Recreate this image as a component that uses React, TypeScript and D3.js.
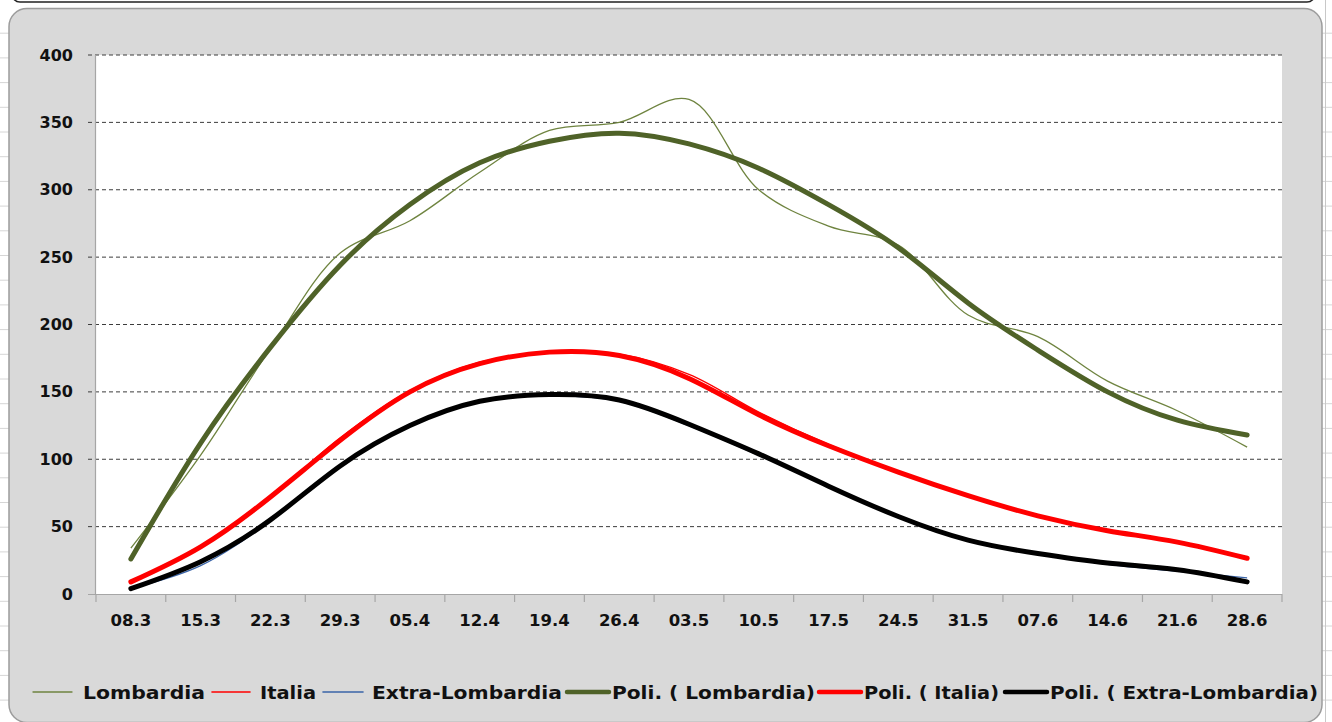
import React from "react";
import * as d3 from "d3";

const categories = ["08.3","15.3","22.3","29.3","05.4","12.4","19.4","26.4","03.5","10.5","17.5","24.5","31.5","07.6","14.6","21.6","28.6"];

const lombardia = [34, 103, 182, 253, 277, 313, 344, 350, 367, 300, 273, 259, 207, 191, 158, 136, 109];
const italia = [10, 35, 72, 116, 151, 172, 179, 178, 163, 135, 111, 91, 73, 58, 47, 38, 27];
const extraLombardia = [4, 21, 54, 95, 125, 143, 147, 143, 125, 103, 80, 58, 40, 30, 22, 17, 12];

const lombardiaTrend = [26, 112, 183, 244, 289, 320, 336, 342, 334, 316, 289, 257, 216, 181, 150, 129, 118];
const italiaTrend = [9, 35, 72, 114, 150, 171, 179.5, 177, 160, 133, 110, 90.5, 73, 58, 47, 38.5, 26.5];
const extraTrend = [4, 24, 55, 95, 125, 143, 148, 144, 126, 104, 80, 57.5, 40, 30, 23, 18, 9];

const yTicks = [0, 50, 100, 150, 200, 250, 300, 350, 400];

const legendLabels = ["Lombardia", "Italia", "Extra-Lombardia", "Poli. ( Lombardia)", "Poli. ( Italia)", "Poli. ( Extra-Lombardia)"];

const FONT = "'DejaVu Sans', Verdana, sans-serif";

export default function App() {
  const plot = { left: 96, right: 1282, top: 55, bottom: 594 };
  const x = d3.scaleBand<string>().domain(categories).range([plot.left, plot.right]);
  const y = d3.scaleLinear().domain([0, 400]).range([plot.bottom, plot.top]);
  const cx = (i: number) => (x(categories[i]) as number) + x.bandwidth() / 2;

  const smooth = d3.line<number>().x((_, i) => cx(i)).y((v) => y(v)).curve(d3.curveCatmullRom.alpha(0.5));
  const trend = d3.line<number>().x((_, i) => cx(i)).y((v) => y(v)).curve(d3.curveNatural);

  const dataSeries = [
    { values: lombardia, color: "#6f8440", width: 1.3 },
    { values: italia, color: "#ff0000", width: 1.3 },
    { values: extraLombardia, color: "#3a64a8", width: 1.3 },
  ];
  const trendSeries = [
    { values: lombardiaTrend, color: "#4f6228", width: 5 },
    { values: italiaTrend, color: "#ff0000", width: 5 },
    { values: extraTrend, color: "#000000", width: 5 },
  ];

  const legendStyle = [
    { color: "#6f8440", width: 1.3, x1: 33, x2: 72, tx: 83, tl: 122 },
    { color: "#ff0000", width: 1.6, x1: 212, x2: 250, tx: 260, tl: 56 },
    { color: "#3a64a8", width: 1.6, x1: 323, x2: 363, tx: 372, tl: 190 },
    { color: "#4f6228", width: 4.5, x1: 567, x2: 609, tx: 612, tl: 203 },
    { color: "#ff0000", width: 4.5, x1: 819, x2: 861, tx: 864, tl: 135 },
    { color: "#000000", width: 4.5, x1: 1005, x2: 1047, tx: 1050, tl: 268 },
  ];

  const rowLines = d3.range(1, 30).map((k) => 8.5 + 24.7 * k);

  return (
    <svg width={1332} height={722} style={{ position: "absolute", left: 0, top: 0, background: "#fff" }}>
      {rowLines.map((ry, i) => (
        <g key={i}>
          <line x1={0} x2={10} y1={ry} y2={ry} stroke="#d6d6d6" strokeWidth={1} />
          <line x1={1322} x2={1332} y1={ry} y2={ry} stroke="#d6d6d6" strokeWidth={1} />
        </g>
      ))}
      <line x1={1325.5} x2={1325.5} y1={0} y2={722} stroke="#c8c8c8" strokeWidth={1} />
      <rect x={12} y={-30} width={1303} height={32} rx={8} fill="#fff" stroke="#222" strokeWidth={1.5} />
      <rect x={9} y={8.5} width={1313} height={714} rx={18} fill="#d9d9d9" stroke="#9c9c9c" strokeWidth={1.5} />
      <rect x={plot.left} y={plot.top} width={plot.right - plot.left} height={plot.bottom - plot.top} fill="#fff" />
      {yTicks.filter((t) => t > 0).map((t) => (
        <line key={t} x1={88} x2={plot.right} y1={y(t)} y2={y(t)} stroke="#3c3c3c" strokeWidth={1} strokeDasharray="4,3" />
      ))}
      <line x1={88} x2={plot.right} y1={plot.bottom + 0.5} y2={plot.bottom + 0.5} stroke="#a6a6a6" strokeWidth={1.2} />
      <line x1={plot.left - 0.5} x2={plot.left - 0.5} y1={plot.top} y2={plot.bottom + 0.5} stroke="#a6a6a6" strokeWidth={1.2} />
      {categories.map((c, i) => (
        <line key={"t" + i} x1={x(c) as number} x2={x(c) as number} y1={plot.bottom} y2={plot.bottom + 8} stroke="#a6a6a6" strokeWidth={1.2} />
      ))}
      <line x1={plot.right} x2={plot.right} y1={plot.bottom} y2={plot.bottom + 8} stroke="#a6a6a6" strokeWidth={1.2} />
      {yTicks.map((t) => (
        <text key={"y" + t} x={73} y={y(t) + 5.5} textAnchor="end" fontFamily={FONT} fontWeight="bold" fontSize={16} fill="#111">{t}</text>
      ))}
      {categories.map((c, i) => (
        <text key={"x" + i} x={cx(i)} y={625.5} textAnchor="middle" fontFamily={FONT} fontWeight="bold" fontSize={16.5} fill="#111">{c}</text>
      ))}
      {dataSeries.map((s, i) => (
        <path key={"d" + i} d={smooth(s.values) as string} fill="none" stroke={s.color} strokeWidth={s.width} />
      ))}
      {trendSeries.map((s, i) => (
        <path key={"tr" + i} d={trend(s.values) as string} fill="none" stroke={s.color} strokeWidth={s.width} strokeLinecap="round" strokeLinejoin="round" />
      ))}
      {legendLabels.map((label, i) => {
        const st = legendStyle[i];
        return (
          <g key={"l" + i}>
            <line x1={st.x1} x2={st.x2} y1={692} y2={692} stroke={st.color} strokeWidth={st.width} strokeLinecap="round" />
            <text x={st.tx} y={698.5} fontFamily={FONT} fontWeight="bold" fontSize={18.5} fill="#111" textLength={st.tl} lengthAdjust="spacingAndGlyphs">{label}</text>
          </g>
        );
      })}
    </svg>
  );
}
